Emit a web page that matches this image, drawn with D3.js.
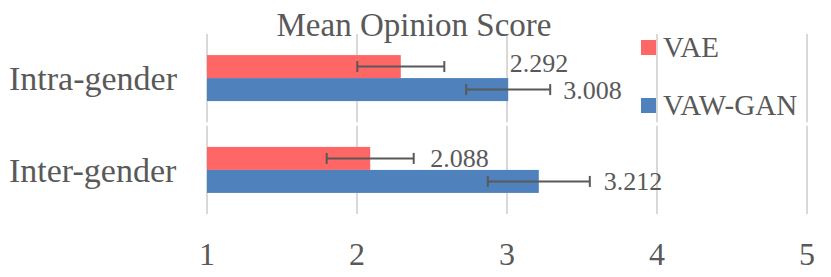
<!DOCTYPE html>
<html>
<head>
<meta charset="utf-8">
<script src="https://cdn.jsdelivr.net/npm/d3@7"></script>
<style>
  html, body { margin: 0; padding: 0; background: #fff; }
  svg { display: block; }
  text { font-family: "Times New Roman", Tinos, serif; fill: #595959; }
</style>
</head>
<body>
<svg id="chart" width="831" height="277"></svg>
<script>
// ---- data ----
const categories = ["Intra-gender", "Inter-gender"];
const seriesNames = ["VAE", "VAW-GAN"];
const vaeValues = [2.292, 2.088];
const vawganValues = [3.008, 3.212];
const vaeErrors = [0.29, 0.29];
const vawganErrors = [0.28, 0.34];
const xTicks = [1, 2, 3, 4, 5];
const colors = ["#ff6666", "#4f81bd"];

// label placement tweaks (offset from bar end, px)
const labelDx = [[109, 60], [55, 65]];
const labelDy = [[-4, 0], [0, 0]];

const svg = d3.select("#chart");

const x = d3.scaleLinear().domain([1, 5]).range([207, 807]);
const y = d3.scaleBand().domain(categories).range([34, 214]).paddingInner(0.04);

const series = [
  { name: seriesNames[0], values: vaeValues, errors: vaeErrors, color: colors[0] },
  { name: seriesNames[1], values: vawganValues, errors: vawganErrors, color: colors[1] }
];

// gridlines, segmented per category band
const gridG = svg.append("g");
categories.forEach(c => {
  gridG.selectAll(null).data(xTicks).enter().append("line")
    .attr("x1", d => x(d)).attr("x2", d => x(d))
    .attr("y1", y(c)).attr("y2", y(c) + y.bandwidth())
    .attr("stroke", "#d9d9d9").attr("stroke-width", 2);
});

// bars
const barH = 23;
const sub = d3.scaleBand().domain([0, 1]).range([0, barH * 2]);
const groupOffset = (y.bandwidth() - barH * 2) / 2;

series.forEach((s, si) => {
  const g = svg.append("g");
  g.selectAll("rect").data(categories).enter().append("rect")
    .attr("x", x(1))
    .attr("y", c => y(c) + groupOffset + sub(si))
    .attr("width", (c, i) => x(s.values[i]) - x(1))
    .attr("height", sub.bandwidth())
    .attr("fill", s.color);
});

// error bars
series.forEach((s, si) => {
  const g = svg.append("g").attr("stroke", "#595959").attr("stroke-width", 2);
  categories.forEach((c, i) => {
    const cy = y(c) + groupOffset + sub(si) + sub.bandwidth() / 2;
    const x0 = x(s.values[i] - s.errors[i]);
    const x1 = x(s.values[i] + s.errors[i]);
    g.append("line").attr("x1", x0).attr("x2", x1).attr("y1", cy).attr("y2", cy);
    g.append("line").attr("x1", x0).attr("x2", x0).attr("y1", cy - 5.5).attr("y2", cy + 5.5);
    g.append("line").attr("x1", x1).attr("x2", x1).attr("y1", cy - 5.5).attr("y2", cy + 5.5);
  });
});

// value labels
series.forEach((s, si) => {
  categories.forEach((c, i) => {
    const cy = y(c) + groupOffset + sub(si) + sub.bandwidth() / 2;
    svg.append("text")
      .attr("x", x(s.values[i]) + labelDx[si][i])
      .attr("y", cy + 9 + labelDy[si][i])
      .attr("font-size", 26)
      .text(s.values[i].toFixed(3));
  });
});

// category labels
svg.append("g").selectAll("text").data(categories).enter().append("text")
  .attr("x", 9)
  .attr("y", c => y(c) + y.bandwidth() / 2 + 12)
  .attr("font-size", 34)
  .text(d => d);

// x axis tick labels
svg.append("g").selectAll("text").data(xTicks).enter().append("text")
  .attr("x", d => x(d))
  .attr("y", 265)
  .attr("text-anchor", "middle")
  .attr("font-size", 32)
  .text(d => d);

// title
svg.append("text")
  .attr("x", 414).attr("y", 36)
  .attr("text-anchor", "middle")
  .attr("font-size", 33)
  .text("Mean Opinion Score");

// legend
const legendY = [40, 98];
series.forEach((s, si) => {
  svg.append("rect").attr("x", 641).attr("y", legendY[si]).attr("width", 15).attr("height", 15).attr("fill", s.color);
  svg.append("text").attr("x", 663).attr("y", legendY[si] + 17).attr("font-size", 29).text(s.name);
});
</script>
</body>
</html>
